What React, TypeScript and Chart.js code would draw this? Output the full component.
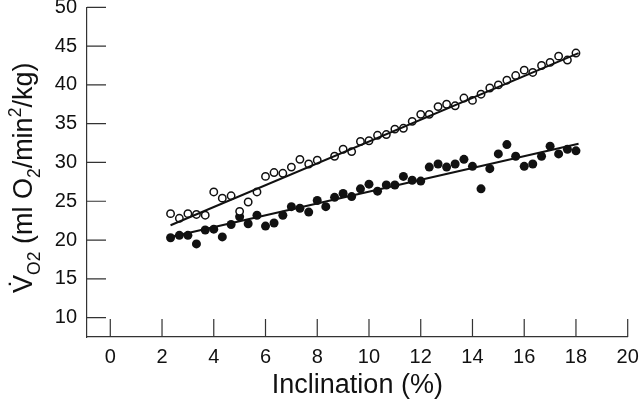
import React, { useEffect, useRef } from 'react';
import { Chart, registerables } from 'chart.js';

Chart.register(...registerables);

// Open circles (upper series)
const openX = [2.33, 2.67, 3, 3.33, 3.67, 4, 4.33, 4.67, 5, 5.33, 5.67, 6, 6.33, 6.67, 7, 7.33, 7.67, 8,
  8.67, 9, 9.33, 9.67, 10, 10.33, 10.67, 11, 11.33, 11.67, 12, 12.33, 12.67, 13, 13.33, 13.67, 14, 14.33,
  14.67, 15, 15.33, 15.67, 16, 16.33, 16.67, 17, 17.33, 17.67, 18];
const openY = [23.4, 22.8, 23.4, 23.3, 23.2, 26.2, 25.4, 25.7, 23.7, 24.9, 26.2, 28.2, 28.7, 28.6, 29.4, 30.4, 29.8, 30.3,
  30.8, 31.7, 31.4, 32.7, 32.8, 33.5, 33.6, 34.3, 34.4, 35.3, 36.2, 36.2, 37.2, 37.5, 37.3, 38.3, 38.0, 38.8,
  39.6, 40.0, 40.6, 41.2, 41.9, 41.6, 42.5, 42.9, 43.7, 43.2, 44.1];

// Filled circles (lower series)
const filledX = [2.33, 2.67, 3, 3.33, 3.67, 4, 4.33, 4.67, 5, 5.33, 5.67, 6, 6.33, 6.67, 7, 7.33, 7.67, 8,
  8.33, 8.67, 9, 9.33, 9.67, 10, 10.33, 10.67, 11, 11.33, 11.67, 12, 12.33, 12.67, 13, 13.33, 13.67, 14, 14.33,
  14.67, 15, 15.33, 15.67, 16, 16.33, 16.67, 17, 17.33, 17.67, 18];
const filledY = [20.3, 20.6, 20.6, 19.5, 21.3, 21.4, 20.4, 22.0, 23.0, 22.1, 23.2, 21.8, 22.2, 23.2, 24.3, 24.1, 23.6, 25.1,
  24.3, 25.5, 26.0, 25.6, 26.6, 27.2, 26.3, 27.1, 27.1, 28.2, 27.7, 27.6, 29.4, 29.8, 29.4, 29.8, 30.4, 29.5, 26.6,
  29.2, 31.1, 32.3, 30.8, 29.5, 29.8, 30.8, 32.1, 31.1, 31.7, 31.5];

// Fitted regression lines (end points)
const openFitX = [2.33, 18.1];
const openFitY = [21.9, 44.1];
const filledFitX = [2.33, 18.1];
const filledFitY = [20.4, 32.4];

const xTicks = [0, 2, 4, 6, 8, 10, 12, 14, 16, 18, 20];
const yTicks = [10, 15, 20, 25, 30, 35, 40, 45, 50];
const xTitle = 'Inclination (%)';
const yTitleParts = [
  { text: 'V\u0307', scale: 1, shift: 0 },
  { text: 'O2', scale: 0.65, shift: 0.28 },
  { text: ' (ml O', scale: 1, shift: 0 },
  { text: '2', scale: 0.65, shift: 0.28 },
  { text: '/min', scale: 1, shift: 0 },
  { text: '2', scale: 0.65, shift: -0.42 },
  { text: '/kg)', scale: 1, shift: 0 },
];

const FONT = '"Liberation Sans", Arial, Helvetica, sans-serif';
const AXIS = '#333333';
const INK = '#111111';

const pts = (xs: number[], ys: number[]) => xs.map((x, i) => ({ x, y: ys[i] }));

const inwardTicks = {
  id: 'inwardTicks',
  beforeDatasetsDraw(chart: any) {
    const { ctx, chartArea, scales } = chart;
    ctx.save();
    ctx.strokeStyle = AXIS;
    ctx.lineWidth = 1.2;
    ctx.beginPath();
    yTicks.forEach((v) => {
      const y = scales.y.getPixelForValue(v);
      ctx.moveTo(chartArea.left, y);
      ctx.lineTo(chartArea.left + 19, y);
    });
    xTicks.forEach((v) => {
      const x = scales.x.getPixelForValue(v);
      ctx.moveTo(x, chartArea.bottom);
      ctx.lineTo(x, chartArea.bottom - 18);
    });
    ctx.stroke();
    ctx.restore();
  },
};

const yTitlePlugin = {
  id: 'yTitlePlugin',
  afterDraw(chart: any) {
    const { ctx } = chart;
    const size = 27;
    ctx.save();
    ctx.translate(32, 293);
    ctx.rotate(-Math.PI / 2);
    ctx.fillStyle = INK;
    ctx.textBaseline = 'alphabetic';
    ctx.textAlign = 'left';
    let cursor = 0;
    yTitleParts.forEach((p) => {
      const s = size * p.scale;
      ctx.font = `${s}px ${FONT}`;
      ctx.fillText(p.text, cursor, p.shift * size);
      cursor += ctx.measureText(p.text).width;
    });
    ctx.restore();
  },
};

export default function App() {
  const ref = useRef<HTMLCanvasElement | null>(null);

  useEffect(() => {
    if (!ref.current) return;
    const chart = new Chart(ref.current, {
      type: 'scatter',
      data: {
        datasets: [
          {
            label: 'open fit',
            data: pts(openFitX, openFitY),
            showLine: true,
            borderColor: INK,
            borderWidth: 2,
            pointRadius: 0,
          },
          {
            label: 'filled fit',
            data: pts(filledFitX, filledFitY),
            showLine: true,
            borderColor: INK,
            borderWidth: 2,
            pointRadius: 0,
          },
          {
            label: 'open',
            data: pts(openX, openY),
            pointRadius: 3.7,
            pointBorderWidth: 1.5,
            pointBackgroundColor: '#ffffff',
            pointBorderColor: INK,
          },
          {
            label: 'filled',
            data: pts(filledX, filledY),
            pointRadius: 4.5,
            pointBorderWidth: 0,
            pointBackgroundColor: INK,
            pointBorderColor: INK,
          },
        ],
      },
      options: {
        animation: false,
        responsive: false,
        maintainAspectRatio: false,
        layout: { padding: 0 },
        plugins: {
          legend: { display: false },
          tooltip: { enabled: false },
          title: { display: false },
        },
        scales: {
          x: {
            type: 'linear',
            min: -0.9,
            max: 20,
            afterBuildTicks: (s: any) => {
              s.ticks = xTicks.map((value) => ({ value }));
            },
            afterFit: (s: any) => {
              s.height = 69;
              s.paddingLeft = 0;
              s.paddingRight = 12.3;
            },
            ticks: {
              autoSkip: false,
              maxRotation: 0,
              padding: 8,
              color: INK,
              font: { family: FONT, size: 20 },
            },
            grid: { display: false, drawTicks: false },
            border: { display: true, color: AXIS, width: 1.2 },
            title: {
              display: true,
              text: xTitle,
              color: INK,
              font: { family: FONT, size: 27 },
              padding: { top: 0, bottom: 4 },
            },
          },
          y: {
            type: 'linear',
            min: 7.5,
            max: 50,
            afterBuildTicks: (s: any) => {
              s.ticks = yTicks.map((value) => ({ value }));
            },
            afterFit: (s: any) => {
              s.width = 87;
              s.paddingTop = 7.3;
              s.paddingBottom = 0;
            },
            ticks: {
              autoSkip: false,
              padding: 10,
              color: INK,
              font: { family: FONT, size: 20 },
            },
            grid: { display: false, drawTicks: false },
            border: { display: true, color: AXIS, width: 1.2 },
          },
        },
      },
      plugins: [inwardTicks, yTitlePlugin],
    } as any);
    return () => chart.destroy();
  }, []);

  return (
    <div style={{ position: 'fixed', left: 0, top: 0, width: 640, height: 406, background: '#fff' }}>
      <canvas ref={ref} width={640} height={406} style={{ width: 640, height: 406, display: 'block' }} />
    </div>
  );
}
